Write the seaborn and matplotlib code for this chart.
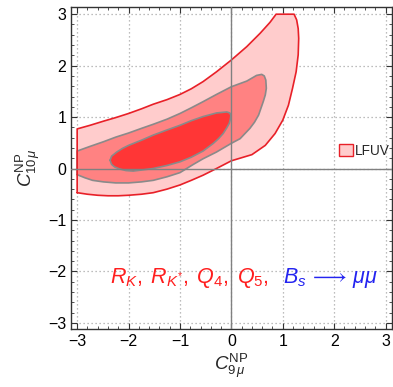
import numpy as np
import pandas as pd
import matplotlib
matplotlib.use("Agg")
import matplotlib.pyplot as plt
import seaborn as sns
from matplotlib.patches import Patch
from matplotlib.ticker import MultipleLocator

# ---- data ----
outer_x = [-3.0, -3.0, -2.75, -2.49, -2.25, -2.0, -1.75, -1.52, -1.25, -1.0, -0.78,
           -0.55, -0.29, 0.0, 0.3, 0.56, 0.75, 0.87, 1.22,
           1.27, 1.30, 1.31, 1.30, 1.26, 1.19, 1.11, 1.0, 0.85, 0.66, 0.40, 0.2,
           0.0, -0.29, -0.55, -0.78, -1.0, -1.25, -1.52, -1.75, -2.0, -2.2, -2.4,
           -2.6, -2.8]
outer_y = [-0.47, 0.77, 0.84, 0.92, 0.99, 1.07, 1.16, 1.25, 1.34, 1.44, 1.55,
           1.69, 1.88, 2.11, 2.37, 2.63, 2.84, 3.0, 3.0,
           2.89, 2.72, 2.53, 2.21, 1.88, 1.56, 1.23, 0.94, 0.68, 0.45, 0.27, 0.21,
           0.15, 0.0, -0.13, -0.23, -0.32, -0.40, -0.47, -0.50, -0.52, -0.53, -0.53,
           -0.52, -0.50]

mid_x = [-3.0, -3.0, -2.75, -2.49, -2.25, -2.0, -1.75, -1.52, -1.25, -1.0, -0.78,
         -0.55, -0.29, 0.0, 0.3, 0.49, 0.59, 0.64, 0.67, 0.68, 0.66, 0.62, 0.53, 0.45,
         0.36, 0.17, 0.0, -0.29, -0.55, -0.74, -1.0, -1.25, -1.52, -1.75, -2.0,
         -2.25, -2.49, -2.7, -2.85]
mid_y = [-0.12, 0.34, 0.43, 0.52, 0.61, 0.69, 0.78, 0.86, 0.96, 1.07, 1.18,
         1.30, 1.44, 1.59, 1.70, 1.81, 1.83, 1.80, 1.72, 1.56, 1.43, 1.30, 1.04, 0.90,
         0.78, 0.58, 0.49, 0.32, 0.19, 0.08, -0.08, -0.16, -0.23, -0.26, -0.28,
         -0.28, -0.26, -0.23, -0.18]

inner_x = [-2.36, -2.33, -2.23, -2.12, -2.0, -1.75, -1.52, -1.25, -1.0, -0.78, -0.55,
           -0.29, -0.09, -0.03, -0.01, -0.02, -0.04, -0.09, -0.16, -0.25, -0.35, -0.55,
           -0.78, -1.0, -1.25, -1.52, -1.75, -1.91, -2.05, -2.17, -2.27, -2.33]
inner_y = [0.16, 0.24, 0.32, 0.39, 0.45, 0.55, 0.65, 0.75, 0.84, 0.93, 1.01,
           1.08, 1.10, 1.08, 1.03, 0.96, 0.88, 0.79, 0.68, 0.58, 0.49, 0.34,
           0.22, 0.13, 0.06, 0.0, -0.03, -0.05, -0.04, -0.01, 0.03, 0.08]

ticks = [-3, -2, -1, 0, 1, 2, 3]
legend_label = "LFUV"
red_text = r"$R_K,\;R_{K^{*}},\;Q_4,\;Q_5,$"
blue_text = r"$B_s\,{\longrightarrow}\,\mu\mu$"
xlabel = r"$C^{\mathrm{NP}}_{9\,\mu}$"
ylabel = r"$C^{\mathrm{NP}}_{10\,\mu}$"

# ---- style ----
sns.set_theme(style="white")
plt.rcParams["font.family"] = ["Liberation Sans", "DejaVu Sans"]
plt.rcParams["mathtext.fontset"] = "custom"
plt.rcParams["mathtext.rm"] = "Liberation Sans"
plt.rcParams["mathtext.it"] = "Liberation Sans:italic"
plt.rcParams["mathtext.sf"] = "Liberation Sans"
plt.rcParams["mathtext.bf"] = "Liberation Sans:bold"

C_OUT_FILL = "#FFCCCC"
C_MID_FILL = "#FF8282"
C_IN_FILL = "#FF3636"
C_RED = "#E82028"
C_GRAY = "#8A8A8A"

fig = plt.figure(figsize=(3.93, 3.87), dpi=100)
ax = fig.add_axes([71 / 393, 1 - 329 / 387, (392 - 71) / 393, (329 - 7) / 387])

ax.set_xlim(-3.12, 3.125)
ax.set_ylim(-3.12, 3.14)

# grid behind
for t in ticks:
    ax.axvline(t, color="#A8A8A8", lw=0.9, ls=(0, (1, 2.2)), zorder=0)
    ax.axhline(t, color="#A8A8A8", lw=0.9, ls=(0, (1, 2.2)), zorder=0)

# filled regions
ax.fill(outer_x, outer_y, color=C_OUT_FILL, lw=0, zorder=1)
ax.fill(mid_x, mid_y, color=C_MID_FILL, lw=0, zorder=2)
ax.fill(inner_x, inner_y, color=C_IN_FILL, lw=0, zorder=3)

def outline(xs, ys, color, z):
    df = pd.DataFrame({"x": list(xs) + [xs[0]], "y": list(ys) + [ys[0]]})
    sns.lineplot(data=df, x="x", y="y", sort=False, estimator=None, color=color,
                 lw=1.2, ax=ax, zorder=z)

outline(mid_x, mid_y, C_GRAY, 4)
outline(inner_x, inner_y, C_GRAY, 5)
outline(outer_x, outer_y, C_RED, 6)

# axes lines on top
ax.axvline(0, color="#808080", lw=1.0, zorder=7)
ax.axhline(0, color="#808080", lw=1.0, zorder=7)

# ticks
ax.set_xticks(ticks)
ax.set_yticks(ticks)
ax.xaxis.set_minor_locator(MultipleLocator(0.2))
ax.yaxis.set_minor_locator(MultipleLocator(0.2))
ax.tick_params(which="both", direction="in", top=True, right=True, bottom=True, left=True,
               color="#333333")
ax.tick_params(which="major", length=4.5, width=0.8, labelsize=11.5, pad=3.5,
               labelcolor="black")
ax.tick_params(which="minor", length=2.5, width=0.6)
for s in ax.spines.values():
    s.set_color("#333333")
    s.set_linewidth(1.0)

ax.set_xlabel(xlabel, fontsize=13.5, labelpad=2)
ax.set_ylabel(ylabel, fontsize=13.5, labelpad=4)

# annotation text
ax.text(-2.36, -2.22, red_text, color="#FF1E1E", fontsize=15.5, ha="left", va="baseline",
        zorder=8)
ax.text(1.01, -2.22, blue_text, color="#2424F0", fontsize=15.5, ha="left", va="baseline",
        zorder=8)

# legend
handle = Patch(facecolor=C_OUT_FILL, edgecolor=C_RED, linewidth=1.0)
leg = ax.legend([handle], [legend_label], loc="center left",
                bbox_to_anchor=(0.836, 0.554), frameon=False, fontsize=9.8,
                handlelength=1.0, handleheight=1.0, handletextpad=0.12,
                borderpad=0, borderaxespad=0)

fig.savefig("out.png", dpi=100)
